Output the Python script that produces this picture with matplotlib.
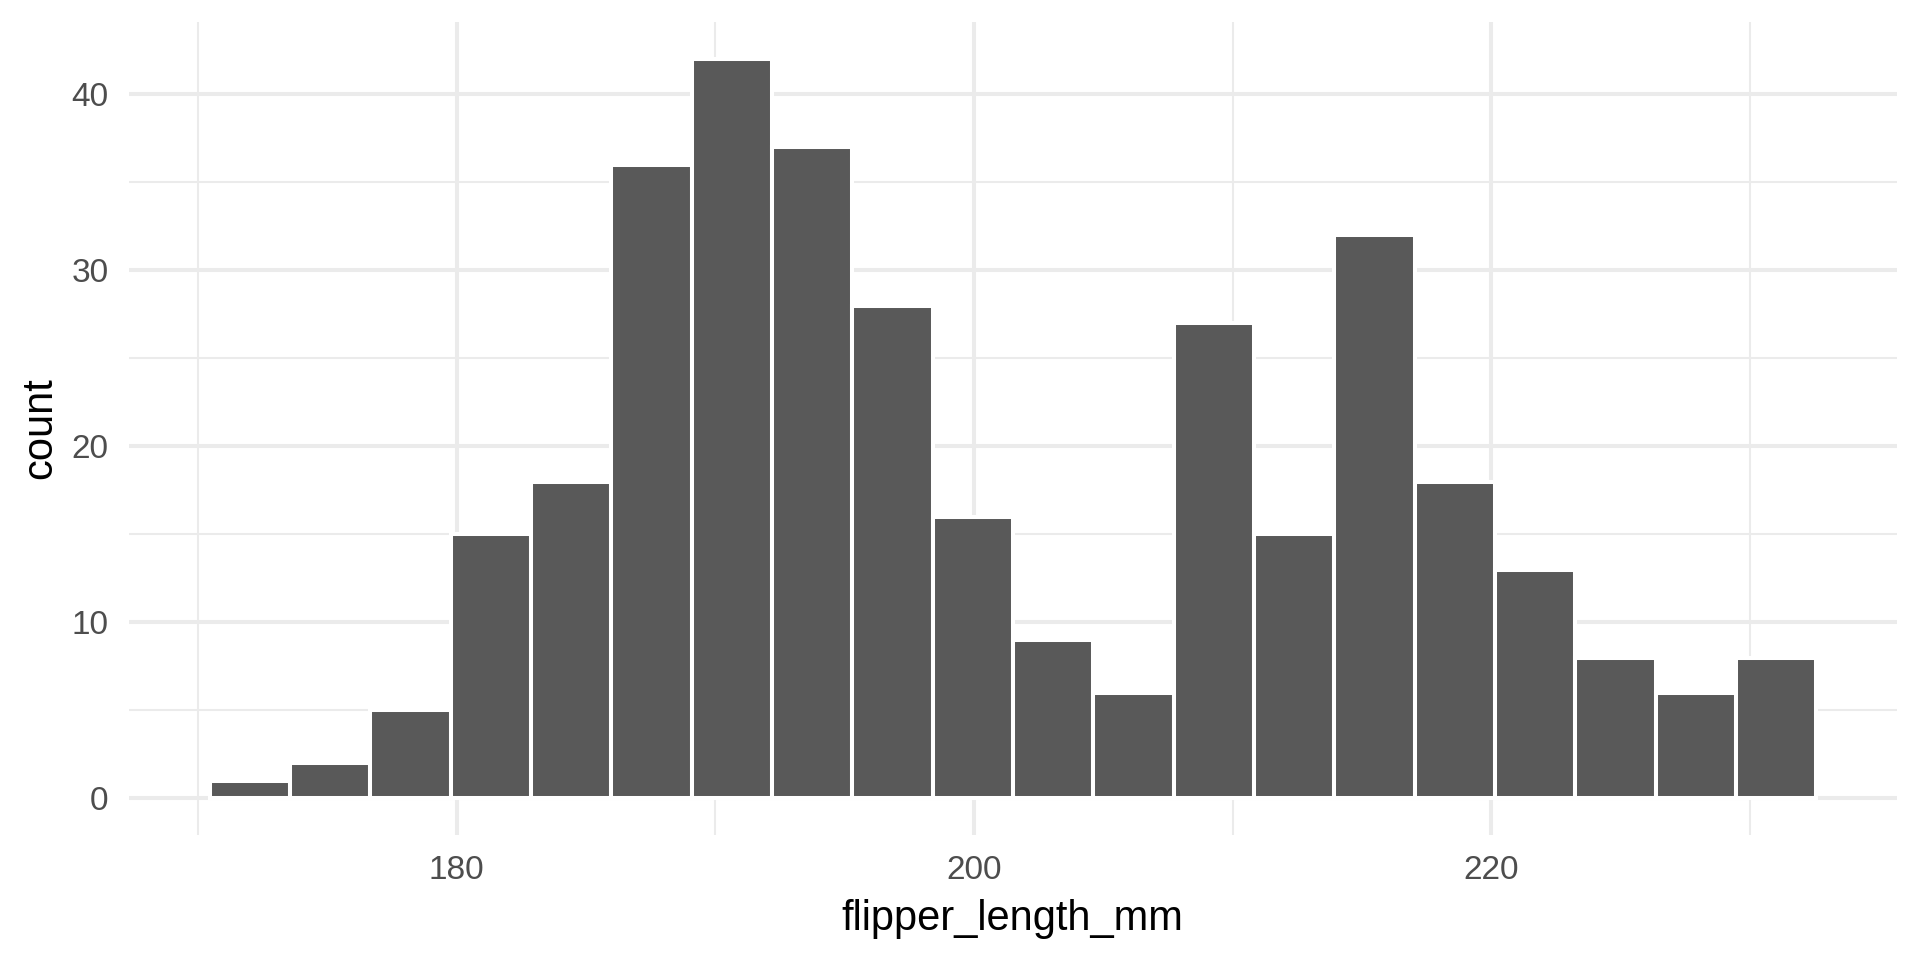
import numpy as np
import matplotlib
matplotlib.use('Agg')
import matplotlib.pyplot as plt
from matplotlib.ticker import FixedLocator

# 데이터: flipper_length_mm 히스토그램 (bins = 20)
flipper_min = 172
flipper_max = 231
n_bins = 20
counts = [1, 2, 5, 15, 18, 36, 42, 37, 28, 16, 9, 6, 27, 15, 32, 18, 13, 8, 6, 8]
x_ticks = [180, 200, 220]
x_minor = [170, 190, 210, 230]
y_ticks = [0, 10, 20, 30, 40]
y_minor = [5, 15, 25, 35]
x_title = 'flipper_length_mm'
y_title = 'count'

# ggplot 방식: 첫/마지막 구간의 중심이 최솟값/최댓값
width = (flipper_max - flipper_min) / (n_bins - 1)
centers = np.linspace(flipper_min, flipper_max, n_bins)
lo, hi = centers[0] - width / 2, centers[-1] + width / 2

plt.rcParams['font.family'] = ['Liberation Sans', 'DejaVu Sans']

fig = plt.figure(figsize=(19.2, 9.6), dpi=100)
ax = fig.add_axes([0.0673, 0.1298, 0.9205, 0.8471])

grid_col = '#EBEBEB'
ax.bar(centers, counts, width=width, color='#595959', edgecolor='white',
       linewidth=2.9, zorder=3)

# 축 범위 (5% 확장)
ax.set_xlim(lo - 0.05 * (hi - lo), hi + 0.05 * (hi - lo))
ymax = max(counts)
ax.set_ylim(-0.05 * ymax, ymax * 1.05)

ax.xaxis.set_major_locator(FixedLocator(x_ticks))
ax.xaxis.set_minor_locator(FixedLocator(x_minor))
ax.yaxis.set_major_locator(FixedLocator(y_ticks))
ax.yaxis.set_minor_locator(FixedLocator(y_minor))

ax.grid(which='major', color=grid_col, linewidth=2.9, zorder=0)
ax.grid(which='minor', color=grid_col, linewidth=1.45, zorder=0)
ax.set_axisbelow(True)

for s in ax.spines.values():
    s.set_visible(False)

ax.tick_params(which='both', length=0)
ax.tick_params(axis='y', labelsize=24, labelcolor='#4D4D4D', pad=15)
ax.tick_params(axis='x', labelsize=24, labelcolor='#4D4D4D', pad=14)

fig.text(0.5275, 1 - 930 / 960, x_title, fontsize=30, color='black',
         ha='center', va='baseline')
fig.text(40 / 1920, 0.5536, y_title, fontsize=30, color='black',
         ha='center', va='center', rotation=90)

fig.savefig('out.png', dpi=100, facecolor='white')
